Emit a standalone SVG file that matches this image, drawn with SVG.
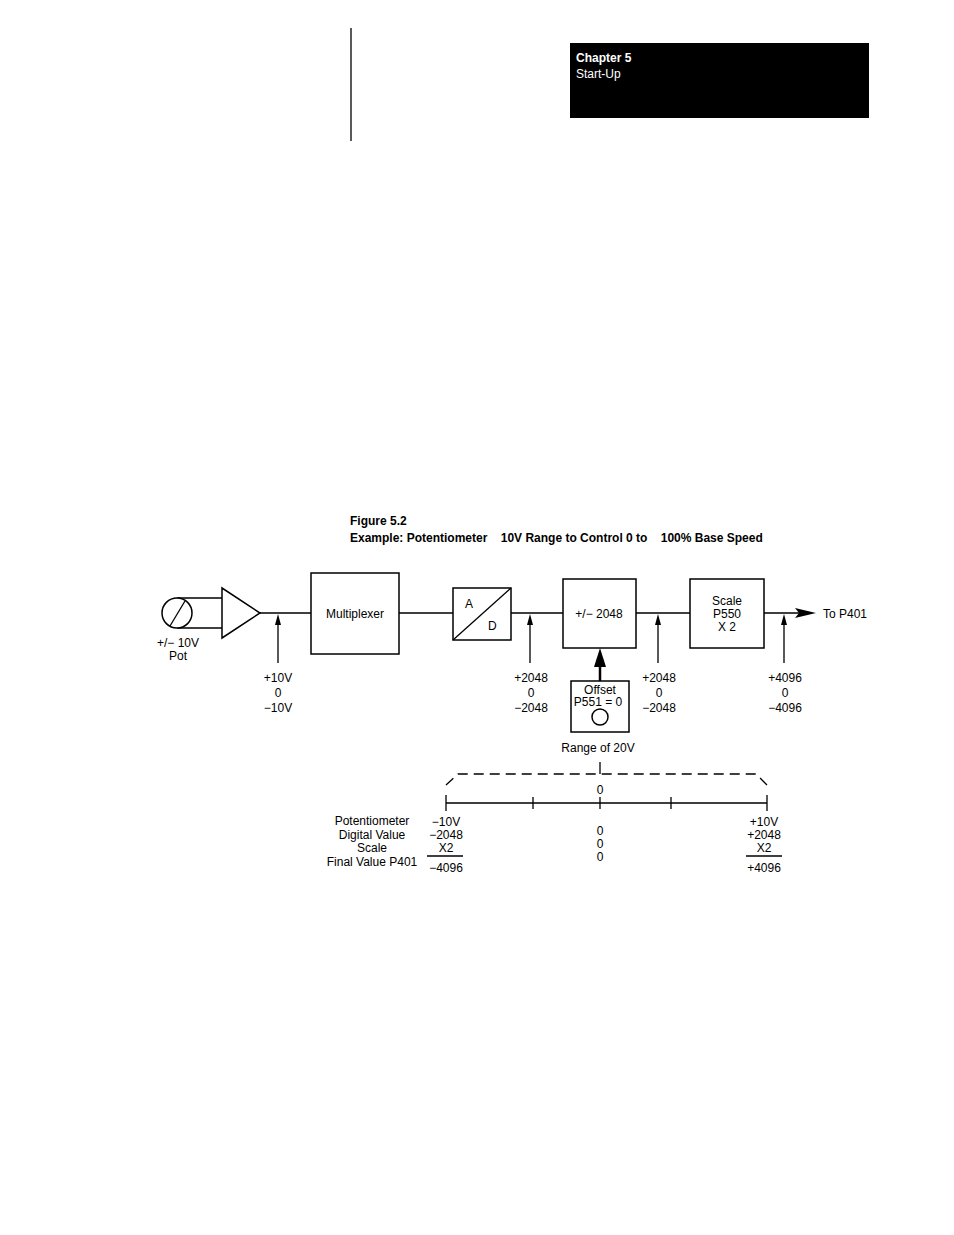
<svg xmlns="http://www.w3.org/2000/svg" width="954" height="1235" viewBox="0 0 954 1235">
<style>
text{font-family:"Liberation Sans",Arial,sans-serif;font-size:12px;fill:#000}
.c{text-anchor:middle}
.b{font-weight:bold}
.s{fill:none;stroke:#000;stroke-width:1.3}
.k{fill:#fff;stroke:#000;stroke-width:1.5}
.h{fill:#000}
</style>
<rect x="570" y="43" width="299" height="75" fill="#000"/>
<text x="576" y="62" style="fill:#fff" class="b">Chapter 5</text>
<text x="576" y="78" style="fill:#fff">Start-Up</text>
<line x1="351" y1="28" x2="351" y2="141" stroke="#000" stroke-width="1.3"/>
<text x="350" y="525" class="b">Figure 5.2</text>
<text x="350" y="542" class="b" xml:space="preserve">Example: Potentiometer    10V Range to Control 0 to    100% Base Speed</text>
<g id="connectors">
<path class="s" d="M177,598 H222 M177,628 H222 M260,613 H311 M399,613 H453 M511,613 H563 M636,613 H690 M764,613 H800"/>
<path d="M795,608 L816,613 L795,618 L799,613 Z" fill="#000"/>
<path class="s" d="M278,663 V620 M530,663 V620 M658,663 V620 M784,663 V620"/>
<path class="h" d="M275,625 L278,614 L281,625 Z M527,625 L530,614 L533,625 Z M655,625 L658,614 L661,625 Z M781,625 L784,614 L787,625 Z"/>
<line x1="600" y1="681" x2="600" y2="665" stroke="#000" stroke-width="2.5"/>
<path d="M594,667 L600,648 L606,667 Z" fill="#000"/>
</g>
<g id="pot"><circle class="k" cx="177" cy="613" r="15"/><line class="s" x1="170" y1="626" x2="185" y2="601"/>
<text class="c" x="178" y="647">+/− 10V</text><text class="c" x="178" y="660">Pot</text></g>
<g id="amp"><path class="k" d="M222,588 L260,613 L222,638 Z"/></g>
<g id="mux"><rect class="k" x="311" y="573" width="88" height="81"/><text class="c" x="355" y="618">Multiplexer</text></g>
<g id="ad"><rect class="k" x="453" y="588" width="58" height="52"/><line class="s" x1="453" y1="640" x2="511" y2="588"/><text x="465" y="608">A</text><text x="488" y="630">D</text></g>
<g id="lim"><rect class="k" x="563" y="579" width="73" height="69"/><text class="c" x="599" y="618">+/− 2048</text></g>
<g id="scale"><rect class="k" x="690" y="579" width="74" height="69"/><text class="c" x="727" y="605">Scale</text><text class="c" x="727" y="618">P550</text><text class="c" x="727" y="631">X 2</text></g>
<text x="823" y="618">To P401</text>
<g id="offset"><rect class="k" x="571" y="681" width="58" height="51"/><text class="c" x="600" y="694">Offset</text><text class="c" x="598" y="706">P551 = 0</text><circle class="k" cx="600" cy="717" r="8"/></g>
<g class="c">
<text x="278" y="682">+10V</text><text x="278" y="697">0</text><text x="278" y="712">−10V</text>
<text x="531" y="682">+2048</text><text x="531" y="697">0</text><text x="531" y="712">−2048</text>
<text x="659" y="682">+2048</text><text x="659" y="697">0</text><text x="659" y="712">−2048</text>
<text x="785" y="682">+4096</text><text x="785" y="697">0</text><text x="785" y="712">−4096</text>
<text x="598" y="752">Range of 20V</text>
<text x="600" y="794">0</text>
</g>
<g id="scalebar">
<line class="s" x1="600" y1="762" x2="600" y2="774"/>
<path class="s" stroke-dasharray="10,6" d="M446,785 L458,774 H756 L767,785"/>
<path class="s" d="M446,803 H767 M446,795 V811 M767,795 V811 M533,797 V809 M600,797 V809 M671,797 V809"/>
<path d="M427,856 H463 M746,856 H782" stroke="#000" stroke-width="1.5"/>
</g>
<g class="c">
<text x="372" y="825">Potentiometer</text><text x="372" y="839">Digital Value</text><text x="372" y="852">Scale</text><text x="372" y="866">Final Value P401</text>
<text x="446" y="826">−10V</text><text x="446" y="839">−2048</text><text x="446" y="852">X2</text><text x="446" y="872">−4096</text>
<text x="600" y="835">0</text><text x="600" y="848">0</text><text x="600" y="861">0</text>
<text x="764" y="826">+10V</text><text x="764" y="839">+2048</text><text x="764" y="852">X2</text><text x="764" y="872">+4096</text>
</g>
</svg>
